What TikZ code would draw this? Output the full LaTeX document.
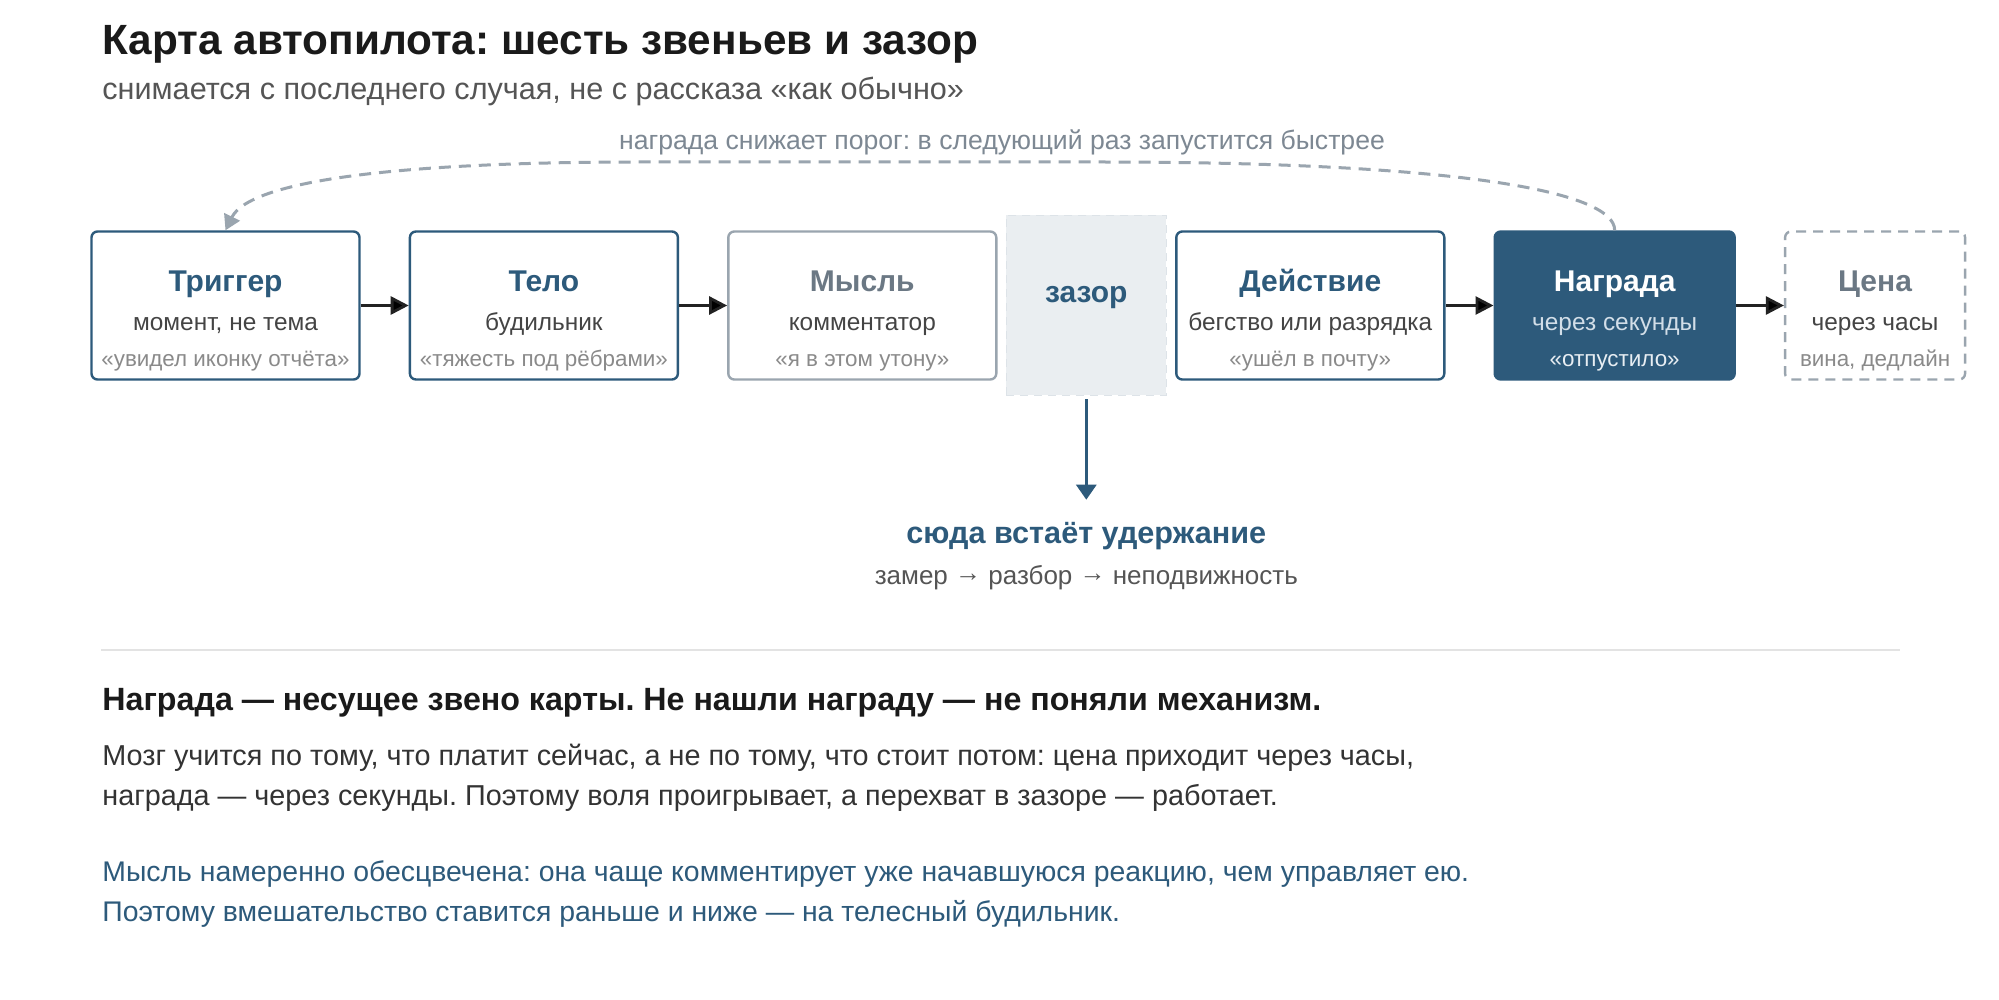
\documentclass[tikz,border=0pt]{standalone}
\usepackage{fontspec}
\setmainfont{Liberation Sans}
\usepackage{xcolor}
\usetikzlibrary{positioning}
\usetikzlibrary{arrows.meta}
\frenchspacing

\definecolor{ink}{HTML}{1A1A1A}
\definecolor{linkblue}{HTML}{2D5A7B}
\definecolor{mutedgray}{HTML}{9AA5AF}
\definecolor{mutedtext}{HTML}{6B7884}
\definecolor{subtext}{HTML}{444444}
\definecolor{quotetext}{HTML}{8A8A8A}
\definecolor{rewardsub}{HTML}{D2DEE8}
\definecolor{rewardquote}{HTML}{E8EEF3}
\definecolor{gapfill}{HTML}{EAEEF1}
\definecolor{gapline}{HTML}{DDE3E8}
\definecolor{arrowink}{HTML}{222222}
\definecolor{rulegray}{HTML}{E3E3E3}
\definecolor{bodytext}{HTML}{333333}
\definecolor{softtext}{HTML}{555555}
\definecolor{looptext}{HTML}{7D8893}

\newcommand\linkhead[1]{\rule{0pt}{26pt}{\fontsize{15}{18}\selectfont\bfseries #1}}
\newcommand\linksub[1]{{\color{subtext}#1}}
\newcommand\linkquote[1]{{\fontsize{11.2}{14}\selectfont\color{quotetext}#1}}
\newcommand\stepto{\raisebox{1.2pt}{→}}

\begin{document}
\begin{tikzpicture}[x=1pt, y=-1pt, node distance=24pt,
  link/.style={draw=linkblue, line width=1.2pt, rounded corners=3pt,
    minimum width=134pt, minimum height=74pt, inner sep=0pt,
    align=center, text=linkblue, font=\fontsize{12.2}{18.3}\selectfont},
  muted/.style={link, draw=mutedgray, text=mutedtext},
  reward/.style={link, fill=linkblue, text=white, minimum width=120pt},
  cost/.style={link, draw=mutedgray, text=mutedtext,
    dash pattern=on 5pt off 3.5pt, minimum width=90pt},
  gapbox/.style={fill=gapfill, draw=gapline, dash pattern=on 4pt off 3pt,
    line width=0.8pt, minimum width=80pt, minimum height=90pt,
    text=linkblue, font=\fontsize{15}{18}\selectfont\bfseries,
    text height=8pt, text depth=10.9pt},
  flow/.style={-{Triangle[length=9pt,width=9pt]}, line width=1.4pt, draw=arrowink},
  feedback/.style={-{Triangle[length=7.5pt,width=8.5pt]}, line width=1.5pt,
    draw=mutedgray, dash pattern=on 6pt off 4pt},
  holdarrow/.style={-{Triangle[length=7.5pt,width=10pt]}, line width=1.5pt,
    draw=linkblue, shorten <=1.6pt, shorten >=11pt},
  plain/.style={inner sep=0pt, anchor=base west}]

  \fill[white] (0,0) rectangle (999.5,500);
  \useasboundingbox (0,0) rectangle (999.5,500);

  \node[plain, text=ink, font=\fontsize{21.15}{25}\selectfont\bfseries] (title) at (51,27.5)
    {Карта автопилота: шесть звеньев и зазор};
  \node[plain, text=softtext, font=\fontsize{15.3}{18}\selectfont] (subtitle) at (51,50)
    {снимается с последнего случая, не с рассказа «как обычно»};

  \node[link] (trigger) at (112.75,152.75)
    {\linkhead{Триггер}\\[0.9pt] \linksub{момент, не тема}\\ \linkquote{«увидел иконку отчёта»}};
  \node[link] (body) [right=of trigger]
    {\linkhead{Тело}\\[0.9pt] \linksub{будильник}\\ \linkquote{«тяжесть под рёбрами»}};
  \node[muted] (thought) [right=of body]
    {\linkhead{Мысль}\\[0.9pt] \linksub{комментатор}\\ \linkquote{«я в этом утону»}};
  \node[gapbox] (gap) [right=4pt of thought] {зазор};
  \node[link] (action) [right=4pt of gap]
    {\linkhead{Действие}\\[0.9pt] \linksub{бегство или разрядка}\\ \linkquote{«ушёл в почту»}};
  \node[reward] (reward) [right=of action]
    {\linkhead{Награда}\\[0.9pt] {\color{rewardsub}через секунды}\\ {\fontsize{11.2}{14}\selectfont\color{rewardquote}«отпустило»}};
  \node[cost] (cost) [right=of reward]
    {\linkhead{Цена}\\[0.9pt] \linksub{через часы}\\ \linkquote{вина, дедлайн}};

  \path[flow]
    (trigger) edge (body)
    (body) edge (thought)
    (action) edge (reward)
    (reward) edge (cost);

  % reward feeds back into the trigger
  \coordinate (loopR) at (550,81);
  \coordinate (loopL) at (320,81);
  \draw[feedback] (reward.north) .. controls +(0,-20) and +(175,0) .. (loopR)
    -- (loopL) .. controls +(-120,0) and +(12.25,-25) .. (trigger.north);
  \node[anchor=base, inner sep=0pt, text=looptext, font=\fontsize{13.3}{16}\selectfont]
    (looplabel) at (501,75) {награда снижает порог: в следующий раз запустится быстрее};

  \node[anchor=base, inner sep=0pt, text=linkblue, font=\fontsize{15.3}{18}\selectfont\bfseries]
    (hold) at ([yshift=-73.5pt]gap.south) {сюда встаёт удержание};
  \node[anchor=base, inner sep=0pt, text=softtext, font=\fontsize{13}{16}\selectfont]
    (holdsteps) at ([yshift=-20.5pt]hold.base) {замер \stepto{} разбор \stepto{} неподвижность};
  \draw[holdarrow] (gap) -- (hold);

  \draw[rulegray, line width=1pt] (50.5,325) -- (950,325);

  \node[plain, text=ink, font=\fontsize{16.1}{20}\selectfont\bfseries] (lesson) at (51,355)
    {Награда — несущее звено карты. Не нашли награду — не поняли механизм.};
  % multi-line nodes sit on their last baseline
  \node[plain, align=left, text=bodytext, font=\fontsize{14.4}{20}\selectfont] (why) at (51,402.5)
    {Мозг учится по тому, что платит сейчас, а не по тому, что стоит потом: цена приходит через часы,\\
     награда — через секунды. Поэтому воля проигрывает, а перехват в зазоре — работает.};
  \node[plain, align=left, text=linkblue, font=\fontsize{14.2}{19.6}\selectfont] (note) at (51,460.5)
    {Мысль намеренно обесцвечена: она чаще комментирует уже начавшуюся реакцию, чем управляет ею.\\
     Поэтому вмешательство ставится раньше и ниже — на телесный будильник.};
\end{tikzpicture}
\end{document}
